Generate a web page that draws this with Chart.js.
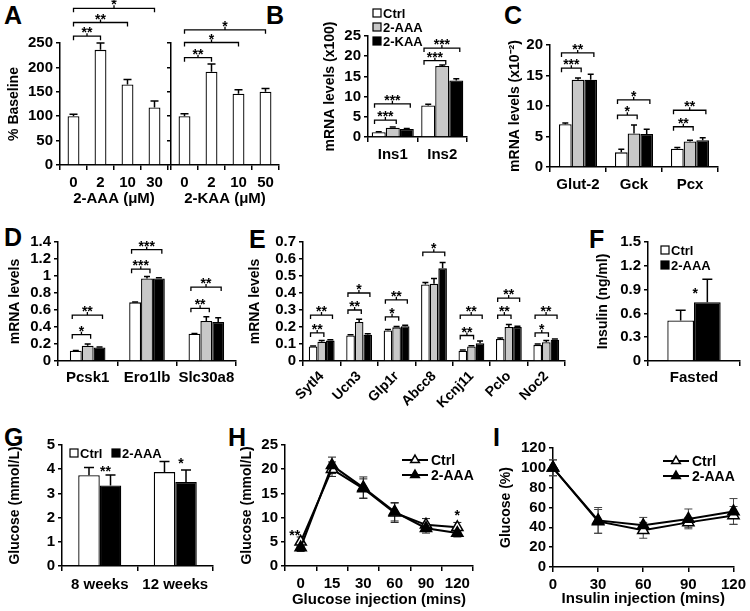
<!DOCTYPE html>
<html><head><meta charset="utf-8">
<script src="https://cdn.jsdelivr.net/npm/chart.js"></script>
<style>
html,body{margin:0;padding:0;background:#fff;width:750px;height:611px;overflow:hidden}
#wrap{position:relative;width:750px;height:611px}
#wrap canvas{position:absolute;left:0;top:0}
.lt{position:absolute;font:bold 25px "Liberation Sans",Arial,sans-serif;line-height:1;color:#000}
</style></head>
<body><div id="wrap">
<div class="lt" style="left:4px;top:3px">A</div>
<div class="lt" style="left:266px;top:3px">B</div>
<div class="lt" style="left:504px;top:3px">C</div>
<div class="lt" style="left:4px;top:225px">D</div>
<div class="lt" style="left:249px;top:227px">E</div>
<div class="lt" style="left:589px;top:227px">F</div>
<div class="lt" style="left:4px;top:425px">G</div>
<div class="lt" style="left:228px;top:425px">H</div>
<div class="lt" style="left:493px;top:425px">I</div>
</div>
<script>
// ---------- DATA ----------
const aCatsAAA = ['0','2','10','30'];
const aValsAAA = [100,236,165,118];
const aErrAAA  = [4,14,10,13];
const aCatsKAA = ['0','2','10','50'];
const aValsKAA = [100,191,146,150];
const aErrKAA  = [5,16,8,7];
const aTicks   = [0,50,100,150,200,250];
const aSigAAA  = [[1,264,'**'],[2,292,'**'],[3,321,'*']];
const aSigKAA  = [[1,220,'**'],[2,251,'*'],[3,277,'*']];

const bCats = ['Ins1','Ins2'];
const bCtrl = [1.2,7.8],  bCtrlErr = [0.1,0.3];
const bAAA  = [2.3,17.6], bAAAErr  = [0.15,0.2];
const bKAA  = [2.0,14.0], bKAAErr  = [0.1,0.4];
const bTicks = [0,5,10,15,20,25];
const bSig = [[0,1,4.2,'***'],[0,2,8.2,'***'],[1,1,18.9,'***'],[1,2,22.0,'***']];

const cCats = ['Glut-2','Gck','Pcx'];
const cCtrl = [7.0,2.4,3.0],   cCtrlErr = [0.2,0.5,0.2];
const cAAA  = [14.3,5.5,4.2],  cAAAErr  = [0.3,1.4,0.2];
const cKAA  = [14.3,5.4,4.4],  cKAAErr  = [0.9,0.8,0.4];
const cTicks = [0,5,10,15,20];
const cSig = [[0,1,16.2,'***'],[0,2,18.7,'**'],[1,1,8.5,'*'],[1,2,11.0,'*'],[2,1,6.6,'**'],[2,2,9.3,'**']];

const dCats = ['Pcsk1','Ero1lb','Slc30a8'];
const dCtrl = [0.12,0.69,0.32],  dCtrlErr = [0.005,0.005,0.005];
const dAAA  = [0.18,0.97,0.47],  dAAAErr  = [0.02,0.025,0.05];
const dKAA  = [0.16,0.97,0.46],  dKAAErr  = [0.005,0.01,0.05];
const dTicks = [0,0.2,0.4,0.6,0.8,1,1.2,1.4];
const dSig = [[0,1,0.31,'*'],[0,2,0.54,'**'],[1,1,1.08,'***'],[1,2,1.31,'***'],[2,1,0.62,'**'],[2,2,0.87,'**']];

const eCats = ['Sytl4','Ucn3','Glp1r','Abcc8','Kcnj11','Pclo','Noc2'];
const eCtrl = [0.085,0.15,0.18,0.45,0.06,0.13,0.095];
const eCtrlErr = [0.003,0.005,0.005,0.012,0.005,0.005,0.005];
const eAAA  = [0.113,0.23,0.198,0.455,0.085,0.20,0.11];
const eAAAErr = [0.007,0.015,0.005,0.03,0.005,0.015,0.01];
const eKAA  = [0.12,0.155,0.205,0.545,0.105,0.20,0.125];
const eKAAErr = [0.005,0.005,0.005,0.035,0.012,0.005,0.005];
const eTicks = [0,0.1,0.2,0.3,0.4,0.5,0.6,0.7];
const eSig = [[0,1,0.165,'**'],[0,2,0.27,'**'],[1,1,0.30,'**'],[1,2,0.40,'*'],[2,1,0.26,'*'],[2,2,0.36,'**'],
              [3,2,0.64,'*'],[4,1,0.15,'**'],[4,2,0.27,'**'],[5,1,0.27,'**'],[5,2,0.37,'**'],[6,1,0.165,'*'],[6,2,0.27,'**']];

const fCats = ['Fasted'];
const fCtrl = [0.51], fCtrlErr = [0.13];
const fAAA  = [0.74], fAAAErr  = [0.29];
const fTicks = [0,0.3,0.6,0.9,1.2,1.5];
const fStars = [[1,0,0.9,'*',-12]];

const gCats = ['8 weeks','12 weeks'];
const gCtrl = [3.75,3.88], gCtrlErr = [0.32,0.44];
const gAAA  = [3.33,3.47], gAAAErr  = [0.43,0.5];
const gTicks = [0,1,2,3,4,5];
const gStars = [[1,0,4.05,'**',-5],[1,1,4.38,'*',-5]];

const hCats = ['0','15','30','60','90','120'];
const hCtrl = [5.0,20.0,16.0,11.0,8.5,8.0], hCtrlErr = [1.0,1.5,2.0,2.0,1.3,1.0];
const hAAA  = [3.8,20.8,16.2,11.2,7.8,6.8], hAAAErr  = [0.8,1.7,2.2,1.9,1.0,0.8];
const hTicks = [0,5,10,15,20,25];
const hStars = [[0,0,7.0,'**',-6],[0,5,11.2,'*',0]];

const iCats = ['0','30','60','90','120'];
const iCtrl = [100,46,37,45,52], iCtrlErr = [8,12,8,5,9];
const iAAA  = [100,47,42,48.5,56], iAAAErr = [8,13,8,10,13];
const iTicks = [0,20,40,60,80,100,120];

// ---------- DRAWING ----------
const FONT = '"Liberation Sans", Arial, Helvetica, sans-serif';
const fnt = (s)=>({family:FONT,size:s,weight:'bold'});
const wrap = document.getElementById('wrap');
const WHITE='#ffffff', GRAY='#c8c8c8', BLACK='#000000';

function drawErrs(chart,d){
  if(!d.errs) return;
  const ctx=chart.ctx, ys=chart.scales.y;
  ctx.save(); ctx.strokeStyle=d.errColor||'#000'; ctx.lineWidth=d.errWidth||1.5;
  d.errs.forEach((arr,i)=>{
    if(!arr) return;
    const meta=chart.getDatasetMeta(i);
    arr.forEach((e,j)=>{
      const el=meta.data[j]; const v=chart.data.datasets[i].data[j];
      const x=el.x, cw=d.cap||4;
      const yT=ys.getPixelForValue(v+e);
      const yB=ys.getPixelForValue(d.both? v-e : v);
      ctx.beginPath(); ctx.moveTo(x,yB); ctx.lineTo(x,yT);
      ctx.moveTo(x-cw,yT); ctx.lineTo(x+cw,yT);
      if(d.both){ctx.moveTo(x-cw,yB); ctx.lineTo(x+cw,yB);}
      ctx.stroke();
    });
  });
  ctx.restore();
}
function tri(ctx,x,y,r,fill){
  ctx.beginPath();
  for(let k=0;k<3;k++){const a=k*2*Math.PI/3; const px=x+Math.sin(a)*r, py=y-Math.cos(a)*r; k?ctx.lineTo(px,py):ctx.moveTo(px,py);}
  ctx.closePath(); ctx.fillStyle=fill; ctx.fill(); ctx.lineWidth=1.5; ctx.strokeStyle='#000'; ctx.stroke();
}
const decor={id:'decor',
  beforeDatasetsDraw(chart){const d=chart.canvas.$decor; if(d.both) drawErrs(chart,d);},
  afterDatasetsDraw(chart){
    const d=chart.canvas.$decor, ctx=chart.ctx, ys=chart.scales.y, ca=chart.chartArea;
    if(!d.both) drawErrs(chart,d);
    ctx.save();
    ctx.strokeStyle='#000'; ctx.fillStyle='#000'; ctx.lineWidth=1.3;
    ctx.font='bold 14px '+FONT; ctx.textAlign='center'; ctx.textBaseline='alphabetic';
    (d.single||[]).forEach(([k,lev,t])=>{
      const m=chart.getDatasetMeta(0); const x1=m.data[0].x, x2=m.data[k].x, y=ys.getPixelForValue(lev);
      ctx.beginPath(); ctx.moveTo(x1,y+4); ctx.lineTo(x1,y); ctx.lineTo(x2,y); ctx.lineTo(x2,y+4);
      const xm=(x1+x2)/2; ctx.moveTo(xm,y); ctx.lineTo(xm,y-3); ctx.stroke();
      ctx.fillText(t,xm,y+1);
    });
    (d.sig||[]).forEach(([c,ds,lev,t])=>{
      const e0=chart.getDatasetMeta(0).data[c], e1=chart.getDatasetMeta(ds).data[c];
      const x1=e0.x-e0.width*0.3, x2=e1.x+e1.width*0.25, y=ys.getPixelForValue(lev);
      ctx.beginPath(); ctx.moveTo(x1,y+4); ctx.lineTo(x1,y); ctx.lineTo(x2,y); ctx.lineTo(x2,y+4);
      const xm=(x1+x2)/2; ctx.moveTo(xm,y); ctx.lineTo(xm,y-3); ctx.stroke();
      ctx.fillText(t,xm,y+1);
    });
    (d.stars||[]).forEach(([ds,c,lev,t,dx])=>{
      const el=chart.getDatasetMeta(ds).data[c];
      ctx.fillText(t,el.x+(dx||0),ys.getPixelForValue(lev)+8);
    });
    if(d.legend){
      const L=d.legend; ctx.font='bold '+(L.size||13)+'px '+FONT; ctx.textAlign='left'; ctx.textBaseline='middle';
      let x=ca.left+L.ox, y=ca.top+L.oy;
      L.items.forEach(([txt,fill])=>{
        if(L.kind==='line'){
          ctx.lineWidth=2; ctx.strokeStyle='#000'; ctx.beginPath(); ctx.moveTo(x,y); ctx.lineTo(x+26,y); ctx.stroke();
          tri(ctx,x+13,y,5,fill); ctx.fillStyle='#000'; ctx.fillText(txt,x+29,y+1);
        } else {
          ctx.fillStyle=fill; ctx.fillRect(x,y-4,8,8); ctx.lineWidth=1.2; ctx.strokeStyle='#000'; ctx.strokeRect(x,y-4,8,8);
          ctx.fillStyle='#000'; ctx.fillText(txt,x+10,y+1);
        }
        if(L.dx){x+=L.dx;} else {y+=L.dy;}
      });
    }
    ctx.restore();
  }
};

function panel(o){
  const c=document.createElement('canvas'); c.width=750; c.height=611; wrap.appendChild(c);
  c.$decor=o.decor||{};
  const lh=14*1.2;
  const yw = o.yTitle ? o.L-(o.yTitleX-lh/2) : 4;
  const xOff = o.xOffset!==false;
  return new Chart(c,{
    type:o.type||'bar',
    data:{labels:o.labels,datasets:o.datasets},
    options:{
      responsive:false, animation:false, events:[], devicePixelRatio:1,
      layout:{padding:{left:o.L-yw, top:o.T, right:750-o.R, bottom:611-o.B-o.xh}},
      plugins:{legend:{display:false}, tooltip:{enabled:false}},
      scales:{
        x:{offset:xOff,
          grid:{drawOnChartArea:false,drawTicks:true,tickLength:5,color:'#000',lineWidth:1.5,offset:xOff},
          border:{display:true,color:'#000',width:1.5},
          ticks:{color:'#000',font:fnt(o.xFont||15),padding:o.xPad??4,autoSkip:false,maxRotation:o.rot||0,minRotation:o.rot||0},
          title:{display:!!o.xTitle,text:o.xTitle||'',color:'#000',font:fnt(15),padding:0},
          afterFit:s=>{s.height=o.xh;}},
        y:{min:0,max:o.yTicks[o.yTicks.length-1],
          afterBuildTicks:s=>{s.ticks=o.yTicks.map(v=>({value:v}));},
          grid:{drawOnChartArea:false,drawTicks:true,tickLength:4,color:'#000',lineWidth:1.5},
          border:{display:true,color:'#000',width:1.5},
          ticks:{display:o.yLabels!==false,autoSkip:false,color:'#000',font:fnt(15),padding:3,callback:v=>String(v)},
          title:{display:!!o.yTitle,text:o.yTitle||'',color:'#000',font:fnt(14),padding:0},
          afterFit:s=>{s.width=yw;}}
      }
    },
    plugins:[decor]
  });
}
const barDs=(data,fill,cp)=>({data,backgroundColor:fill,borderColor:'#000',borderWidth:1.3,categoryPercentage:cp,barPercentage:1});
const lineDs=(data,fill,order)=>({data,borderColor:'#000',borderWidth:2,pointStyle:'triangle',pointRadius:6.5,pointBackgroundColor:fill,pointBorderColor:'#000',pointBorderWidth:1.5,order,tension:0});

// A
panel({L:60,T:43,R:168,B:165,xh:43,yTitle:'% Baseline',yTitleX:14,xTitle:'2-AAA (μM)',labels:aCatsAAA,yTicks:aTicks,
  datasets:[barDs(aValsAAA,WHITE,0.44)],decor:{errs:[aErrAAA],single:aSigAAA,cap:4}});
panel({L:171,T:43,R:279,B:165,xh:43,yLabels:false,xTitle:'2-KAA (μM)',labels:aCatsKAA,yTicks:aTicks,
  datasets:[barDs(aValsKAA,WHITE,0.44)],decor:{errs:[aErrKAA],single:aSigKAA,cap:4}});
// B
panel({L:368,T:36,R:467,B:137,xh:30,yTitle:'mRNA levels (x100)',yTitleX:330,labels:bCats,yTicks:bTicks,
  datasets:[barDs(bCtrl,WHITE,0.85),barDs(bAAA,GRAY,0.85),barDs(bKAA,BLACK,0.85)],
  decor:{errs:[bCtrlErr,bAAAErr,bKAAErr],sig:bSig,cap:3,legend:{kind:'box',ox:5,oy:-23,dy:14,items:[['Ctrl',WHITE],['2-AAA',GRAY],['2-KAA',BLACK]]}}});
// C
panel({L:550,T:45,R:718,B:167,xh:30,yTitle:'mRNA levels (x10⁻²)',yTitleX:515,labels:cCats,yTicks:cTicks,
  datasets:[barDs(cCtrl,WHITE,0.68),barDs(cAAA,GRAY,0.68),barDs(cKAA,BLACK,0.68)],
  decor:{errs:[cCtrlErr,cAAAErr,cKAAErr],sig:cSig,cap:3}});
// D
panel({L:58,T:242,R:236,B:361,xh:30,yTitle:'mRNA levels',yTitleX:15,labels:dCats,yTicks:dTicks,xPad:3,
  datasets:[barDs(dCtrl,WHITE,0.6),barDs(dAAA,GRAY,0.6),barDs(dKAA,BLACK,0.6)],
  decor:{errs:[dCtrlErr,dAAAErr,dKAAErr],sig:dSig,cap:3}});
// E
panel({L:303,T:242,R:565,B:361,xh:60,yTitle:'mRNA levels',yTitleX:255,labels:eCats,yTicks:eTicks,rot:45,xFont:14,xPad:2,
  datasets:[barDs(eCtrl,WHITE,0.69),barDs(eAAA,GRAY,0.69),barDs(eKAA,BLACK,0.69)],
  decor:{errs:[eCtrlErr,eAAAErr,eKAAErr],sig:eSig,cap:3}});
// F
panel({L:648,T:242,R:740,B:361,xh:30,yTitle:'Insulin (ng/ml)',yTitleX:603,labels:fCats,yTicks:fTicks,xPad:3,
  datasets:[barDs(fCtrl,WHITE,0.58),barDs(fAAA,BLACK,0.58)],
  decor:{errs:[fCtrlErr,fAAAErr],stars:fStars,cap:5,legend:{kind:'box',ox:13,oy:8,dy:15,items:[['Ctrl',WHITE],['2-AAA',BLACK]]}}});
// G
panel({L:62,T:445,R:213,B:566,xh:30,yTitle:'Glucose (mmol/L)',yTitleX:15,labels:gCats,yTicks:gTicks,xPad:5,
  datasets:[barDs(gCtrl,WHITE,0.57),barDs(gAAA,BLACK,0.57)],
  decor:{errs:[gCtrlErr,gAAAErr],stars:gStars,cap:5,legend:{kind:'box',ox:8,oy:8,dx:42,items:[['Ctrl',WHITE],['2-AAA',BLACK]]}}});
// H
panel({type:'line',L:285,T:445,R:473,B:566,xh:43,yTitle:'Glucose (mmol/L)',yTitleX:247,xTitle:'Glucose injection (mins)',labels:hCats,yTicks:hTicks,
  datasets:[lineDs(hCtrl,WHITE,1),lineDs(hAAA,BLACK,0)],
  decor:{both:true,errs:[hCtrlErr,hAAAErr],errWidth:1,errColor:'#222',cap:4,stars:hStars,legend:{kind:'line',size:14,ox:117,oy:15,dy:15,items:[['Ctrl',WHITE],['2-AAA',BLACK]]}}});
// I
panel({type:'line',L:553,T:448,R:737,B:567,xh:41,xOffset:false,yTitle:'Glucose (%)',yTitleX:506,xTitle:'Insulin injection (mins)',labels:iCats,yTicks:iTicks,
  datasets:[lineDs(iCtrl,WHITE,1),lineDs(iAAA,BLACK,0)],
  decor:{both:true,errs:[iCtrlErr,iAAAErr],errWidth:1,errColor:'#444',cap:4,legend:{kind:'line',size:14,ox:110,oy:13,dy:15,items:[['Ctrl',WHITE],['2-AAA',BLACK]]}}});
</script>
</body></html>
